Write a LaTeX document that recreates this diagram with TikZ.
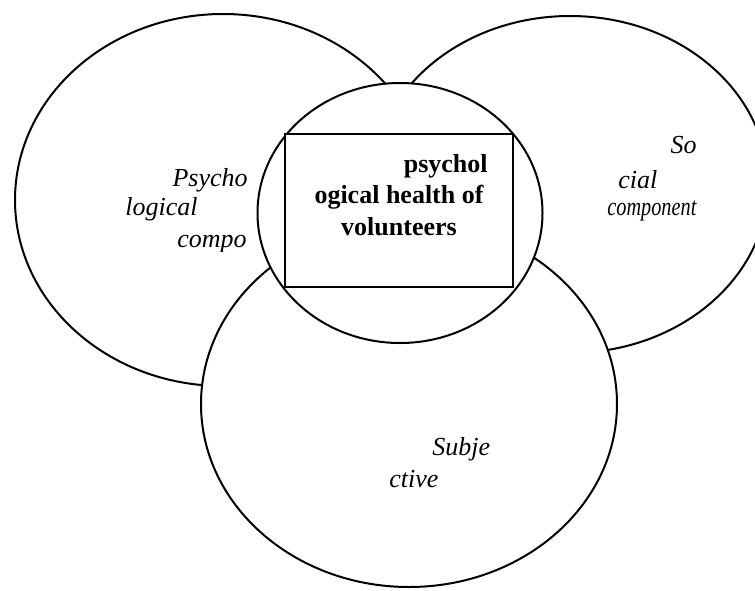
\documentclass[tikz,border=0pt]{standalone}
\usepackage{fontspec}
\setmainfont{Liberation Serif}
\usepackage{graphicx}
\usepackage{tikz}
\tikzset{
  ring/.style={draw,fill=white,line width=1pt},
  lbl/.style={inner sep=0pt,font=\fontsize{13}{15}\selectfont\itshape},
  core/.style={inner sep=0pt,font=\fontsize{13}{15}\selectfont\bfseries}
}
\begin{document}
\begin{tikzpicture}[x=0.5pt,y=-0.5pt]
\useasboundingbox (0,0) rectangle (755,590);
\clip (0,0) rectangle (755,590);
% components
\draw[ring](223,200) ellipse [x radius=208,y radius=186];
\draw[ring](570,184.5) ellipse [x radius=198,y radius=168.5];
\draw[ring](409,404) ellipse [x radius=208,y radius=183];
% core
\draw[ring](400,213) ellipse [x radius=142.5,y radius=130];
\draw[ring](285,134) rectangle (513,287);
\begin{scope}
\clip (100,140) rectangle (256,251);
\node[lbl,anchor=base east](psy1) at (248,186){Psycho};
\node[lbl,anchor=base west](psy2) at (125,215){logical};
\node[lbl,anchor=base east](psy3) at (247,247){compo};
\end{scope}
\node[core,anchor=base east](hl1) at (488,172){psychol};
\node[core,anchor=base](hl2) at (399,203){ogical health of};
\node[core,anchor=base](hl3) at (399,235){volunteers};
\node[lbl,anchor=base east](soc1) at (697,153){So};
\node[lbl,anchor=base west](soc2) at (618,188){cial};
\node[lbl,anchor=base west](soc3) at (607,215){\scalebox{0.78}[1]{component}};
\node[lbl,anchor=base west](sub1) at (432,455){Subje};
\node[lbl,anchor=base west](sub2) at (389,487){ctive};
\end{tikzpicture}
\end{document}
